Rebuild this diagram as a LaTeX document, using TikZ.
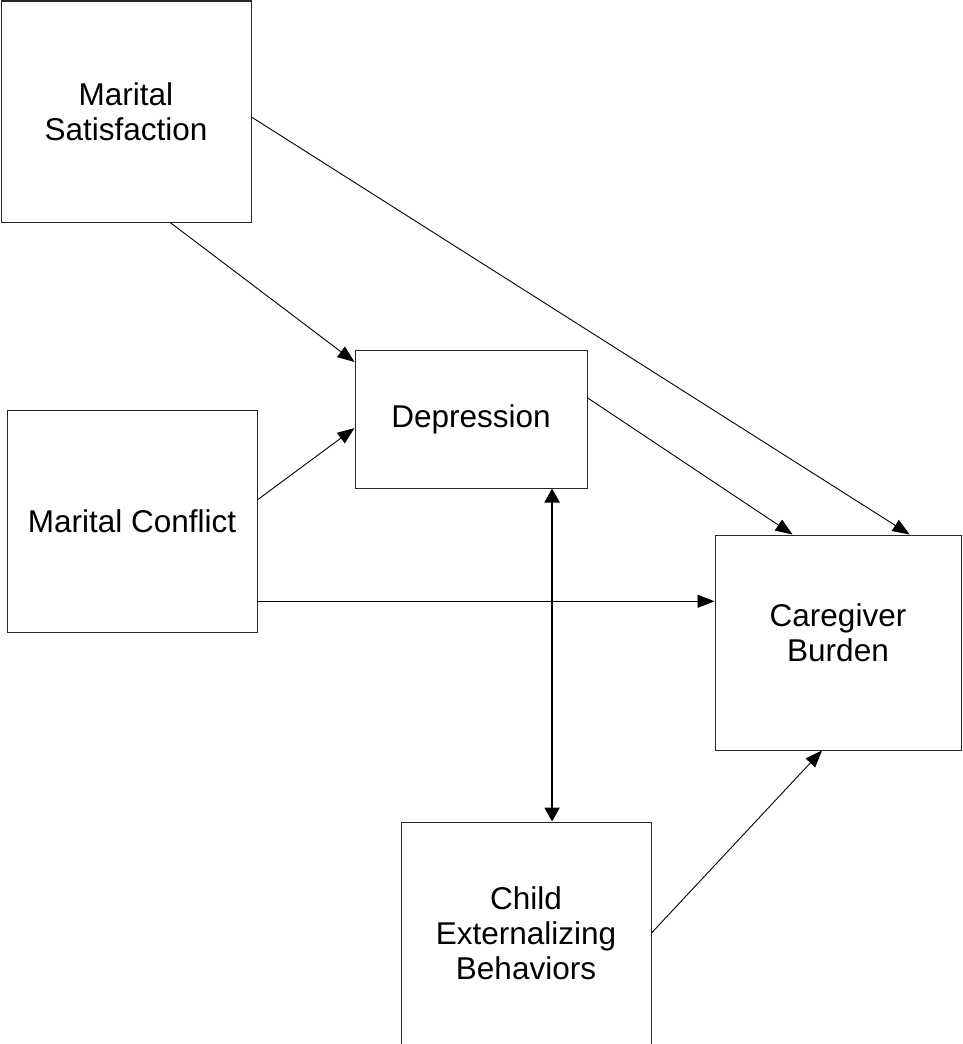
\documentclass[tikz,border=0pt]{standalone}
\usepackage{fontspec}
\setmainfont{Liberation Sans}
\usetikzlibrary{arrows.meta,calc}
\begin{document}
\begin{tikzpicture}[x=1pt,y=-1pt,
  box/.style={draw=black!85,line width=1pt,inner sep=0pt,align=center,
    font=\fontsize{31.5}{35}\selectfont},
  txt/.style={inner sep=0pt,align=center,font=\fontsize{31.5}{35}\selectfont},
  arr/.style={line width=0.9pt,-{Triangle[length=17pt,width=13pt]}},
  darr/.style={line width=2.4pt,{Triangle[length=14pt,width=15pt]}-{Triangle[length=14pt,width=15pt]}}]
\useasboundingbox (0,0) rectangle (962,1044);
\node[box,minimum width=250pt,minimum height=221pt] (sat) at (126,111.5) {Marital\\Satisfaction};
\node[box,minimum width=232pt,minimum height=138pt] (dep) at (471,419) {Depression};
\node[box,minimum width=250pt,minimum height=222pt] (con) at (132,521) {Marital Conflict};
\node[box,minimum width=246pt,minimum height=215pt] (bur) at (838,642.5) {};
\node[txt] (burtxt) at ($(bur.center)+(0,-10)$) {Caregiver\\Burden};
\node[box,minimum width=250pt,minimum height=222pt] (chi) at (526,933) {Child\\Externalizing\\Behaviors};
% connectors
\coordinate (s1) at ($(sat.south west)!0.676!(sat.south east)$);
\coordinate (d1) at ($(dep.north west)!0.09!(dep.south west)$);
\draw[arr] (s1) -- (d1);
\coordinate (s2) at ($(sat.north east)!0.525!(sat.south east)$);
\coordinate (b2) at ($(bur.north west)!0.79!(bur.north east)$);
\draw[arr] (s2) -- (b2);
\coordinate (c3) at ($(con.north east)!0.405!(con.south east)$);
\coordinate (d3) at ($(dep.north west)!0.565!(dep.south west)$);
\draw[arr] (c3) -- (d3);
\coordinate (d4) at ($(dep.north east)!0.348!(dep.south east)$);
\coordinate (b4) at ($(bur.north west)!0.316!(bur.north east)$);
\draw[arr] (d4) -- (b4);
\coordinate (c5) at ($(con.north east)!0.86!(con.south east)$);
\draw[arr] (c5) -- (c5 -| bur.west);
\coordinate (d6) at ($(dep.south west)!0.848!(dep.south east)$);
\draw[darr] (d6) -- (d6 |- chi.north);
\coordinate (k7) at ($(chi.north east)!0.5!(chi.south east)$);
\coordinate (b7) at ($(bur.south west)!0.435!(bur.south east)$);
\draw[arr] (k7) -- (b7);
\end{tikzpicture}
\end{document}
